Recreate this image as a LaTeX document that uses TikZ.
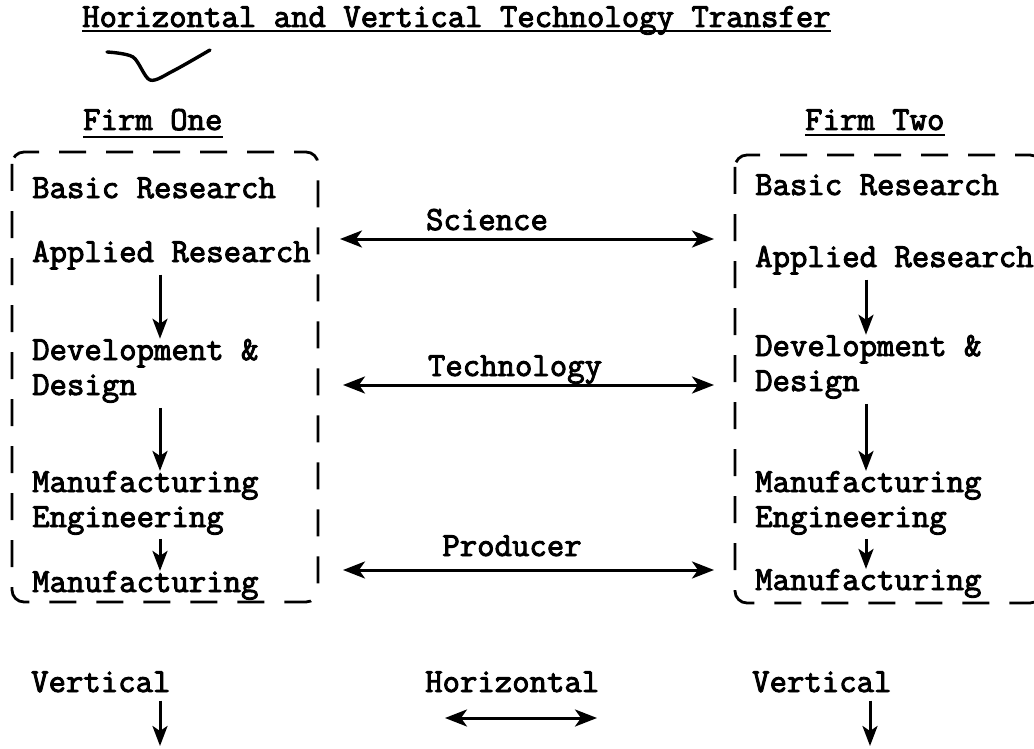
\documentclass[tikz,border=0pt]{standalone}
\usepackage{fontspec}
\newfontfamily\tw{Latin Modern Mono}[FakeBold=2.8]
\usetikzlibrary{arrows.meta}
\begin{document}
\begin{tikzpicture}[x=1pt,y=-1pt,
  lbl/.style={anchor=base west,inner sep=0pt,font=\tw\fontsize{33.8}{38}\selectfont},
  clbl/.style={anchor=base,inner sep=0pt,font=\tw\fontsize{33.8}{38}\selectfont},
  boxline/.style={line width=2.8pt,dash pattern=on 27pt off 20pt,rounded corners=12pt},
  flow/.style={line width=3pt,-{Stealth[length=20pt,width=15pt,inset=5pt]}},
  link/.style={line width=3pt,{Stealth[length=22pt,width=17pt,inset=6pt]}-{Stealth[length=22pt,width=17pt,inset=6pt]}},
  uline/.style={line width=2.6pt}]
\useasboundingbox[fill=white] (0,0) rectangle (1034,749);

% title
\node[lbl] (title) at (82,27) {Horizontal and Vertical Technology Transfer};
\draw[uline] (title.base west) ++(0,4) coordinate (t1) -- (title.base east |- t1);
\draw[line width=3.4pt,line join=round,line cap=round] plot[smooth] coordinates {(107,52) (133,57) (150,80) (173,71) (210,50)};

% firm headings
\node[lbl] (firm1) at (83,130) {Firm One};
\draw[uline] (firm1.base west) ++(0,7) coordinate (f1) -- (firm1.base east |- f1);
\node[lbl] (firm2) at (805,130) {Firm Two};
\draw[uline] (firm2.base west) ++(0,5) coordinate (f2) -- (firm2.base east |- f2);

% boxes
\draw[boxline] (12,152) rectangle (318,602);
\draw[boxline] (735,155) rectangle (1042,603);

% firm one
\node[lbl] (b1) at (32,198) {Basic Research};
\node[lbl] (a1) at (32,262) {Applied Research};
\node[lbl] (d1) at (32,360) {Development \&};
\node[lbl] (g1) at (32,395) {Design};
\node[lbl] (m1) at (32,492) {Manufacturing};
\node[lbl] (e1) at (32,527) {Engineering};
\node[lbl] (p1) at (32,592) {Manufacturing};
\coordinate (x1) at (160,0);
\draw[flow] (x1 |- a1.south) ++(0,5) -- (x1 |- d1.north);
\draw[flow] (x1 |- g1.south) ++(0,5) -- (x1 |- m1.north);
\draw[flow] (x1 |- e1.south) ++(0,4) -- (x1 |- p1.north);

% firm two
\node[lbl] (b2) at (755,195) {Basic Research};
\node[lbl] (a2) at (755,267) {Applied Research};
\node[lbl] (d2) at (755,356) {Development \&};
\node[lbl] (g2) at (755,391) {Design};
\node[lbl] (m2) at (755,492) {Manufacturing};
\node[lbl] (e2) at (755,527) {Engineering};
\node[lbl] (p2) at (755,590) {Manufacturing};
\coordinate (x2) at (866,0);
\draw[flow] (x2 |- a2.south) ++(0,5) -- (x2 |- d2.north);
\draw[flow] (x2 |- g2.south) ++(0,5) -- (x2 |- m2.north);
\draw[flow] (x2 |- e2.south) ++(0,4) -- (x2 |- p2.north);

% horizontal links
\node[clbl] (sci) at (487,230) {Science};
\node[clbl] (tec) at (515,376) {Technology};
\node[clbl] (pro) at (512,556) {Producer};
\coordinate (sl) at (340,239); \coordinate (sr) at (714,239);
\coordinate (tl) at (343,385); \coordinate (tr) at (714,385);
\coordinate (pl) at (343,570); \coordinate (pr) at (714,570);
\draw[link] (sl) -- (sr);
\draw[link] (tl) -- (tr);
\draw[link] (pl) -- (pr);

% bottom legend
\node[lbl] (v1) at (31,692) {Vertical};
\node[lbl] (hz) at (425,692) {Horizontal};
\node[lbl] (v2) at (752,692) {Vertical};
\coordinate (v1e) at (160,746);
\coordinate (v2e) at (870,746);
\draw[flow] (v1e |- v1.south) ++(0,8) -- (v1e);
\draw[flow] (v2e |- v2.south) ++(0,8) -- (v2e);
\coordinate (hl) at (445,718); \coordinate (hr) at (597,718);
\draw[link] (hl) -- (hr);
\end{tikzpicture}
\end{document}
